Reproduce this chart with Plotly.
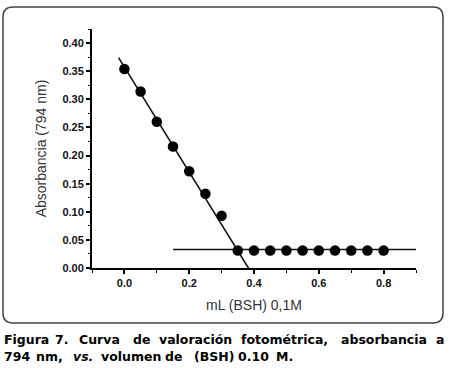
import plotly.graph_objects as go

# data
vol_ml = [0.0, 0.05, 0.10, 0.15, 0.20, 0.25, 0.30, 0.35, 0.40, 0.45, 0.50,
          0.55, 0.60, 0.65, 0.70, 0.75, 0.80]
absorb = [0.354, 0.314, 0.260, 0.216, 0.172, 0.132, 0.093, 0.031, 0.031,
          0.031, 0.031, 0.031, 0.031, 0.031, 0.031, 0.031, 0.031]
fit1_x = [-0.018, 0.386]
fit1_y = [0.374, -0.003]
fit2_x = [0.15, 0.90]
fit2_y = [0.033, 0.033]

x_title = "mL (BSH) 0,1M"
y_title = "Absorbancia (794 nm)"
cap_line1 = ["Figura", "7.", "Curva", "de", "valoración", "fotométrica,", "absorbancia", "a"]
cap_line2 = ["794", "nm,", "<i>vs.</i>", "volumen", "de", "(BSH)", "0.10", "M."]

W, H = 449, 368
L, R, T, B = 92, 33, 29, 100
PW, PH = W - L - R, H - T - B

def px(xp):
    return (xp - L) / PW

def py(yp):
    return (H - B - yp) / PH

AX = "Liberation Sans, Arial, sans-serif"

fig = go.Figure()
fig.add_trace(go.Scatter(x=fit1_x, y=fit1_y, mode="lines",
                         line=dict(color="#111", width=1.6), showlegend=False))
fig.add_trace(go.Scatter(x=fit2_x, y=fit2_y, mode="lines",
                         line=dict(color="#111", width=1.6), showlegend=False))
fig.add_trace(go.Scatter(x=vol_ml, y=absorb, mode="markers",
                         marker=dict(color="#000", size=10.5), showlegend=False,
                         cliponaxis=False))

fig.update_xaxes(range=[-0.1, 0.9], dtick=0.2, tick0=0, tickformat=".1f",
                 showgrid=False, zeroline=False, showline=True, linecolor="#000",
                 linewidth=2, ticks="outside", ticklen=4, tickwidth=1.5, tickcolor="#000",
                 minor=dict(dtick=0.1, tick0=0, ticks="outside", ticklen=2.5,
                            tickwidth=1.2, tickcolor="#000", showgrid=False),
                 tickfont=dict(family=AX, size=11, color="#111", weight="bold"),
                 title=dict(text=x_title, font=dict(family=AX, size=14, color="#333"),
                            standoff=12))
fig.update_yaxes(range=[0, 0.425], dtick=0.05, tick0=0, tickformat=".2f",
                 showgrid=False, zeroline=False, showline=True, linecolor="#000",
                 linewidth=2, ticks="outside", ticklen=4, tickwidth=1.5, tickcolor="#000",
                 minor=dict(dtick=0.025, tick0=0, ticks="outside", ticklen=2.5,
                            tickwidth=1.2, tickcolor="#000", showgrid=False),
                 tickfont=dict(family=AX, size=11, color="#111", weight="bold"),
                 title=dict(text=y_title, font=dict(family=AX, size=14, color="#333"),
                            standoff=12))

# rounded frame
x0, x1 = px(3), px(443)
y0, y1 = py(323), py(7)
rx, ry = 10 / PW, 10 / PH
path = (f"M {x0+rx},{y1} L {x1-rx},{y1} Q {x1},{y1} {x1},{y1-ry} "
        f"L {x1},{y0+ry} Q {x1},{y0} {x1-rx},{y0} L {x0+rx},{y0} "
        f"Q {x0},{y0} {x0},{y0+ry} L {x0},{y1-ry} Q {x0},{y1} {x0+rx},{y1} Z")
fig.add_shape(type="path", path=path, xref="paper", yref="paper",
              line=dict(color="#444", width=1.5))

# caption, justified word by word
starts1 = [2.7, 54, 78, 132, 158, 240, 340, 435]
starts2 = [2.7, 35, 71.7, 100, 164, 193, 237, 275]
CF = "DejaVu Sans, Verdana, sans-serif"
for words, starts, yline in ((cap_line1, starts1, 339), (cap_line2, starts2, 356)):
    for w, s in zip(words, starts):
        fig.add_annotation(text=f"<b>{w}</b>", x=px(s), y=py(yline), xref="paper",
                           yref="paper", xanchor="left", yanchor="middle",
                           showarrow=False, xshift=-1,
                           font=dict(family=CF, size=12.5, color="#000"))

fig.update_layout(width=W, height=H, margin=dict(l=L, r=R, t=T, b=B),
                  plot_bgcolor="white", paper_bgcolor="white")
fig.write_html("out.html", config={"displayModeBar": False},
               post_script="document.body.style.margin='0px';document.body.style.overflow='hidden';")
